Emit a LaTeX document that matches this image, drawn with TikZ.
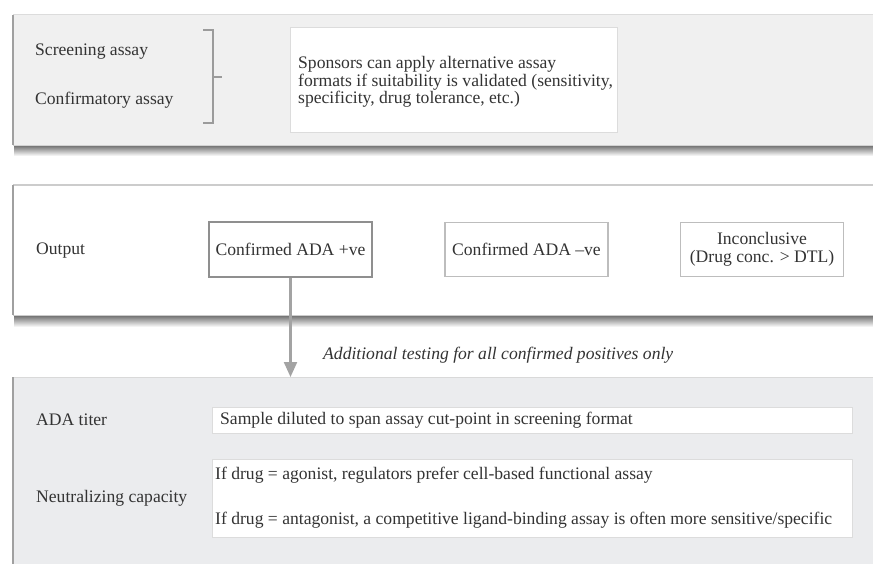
\documentclass[tikz,border=0pt]{standalone}
\usepackage{fontspec}
\setmainfont{Liberation Serif}
\usetikzlibrary{arrows.meta}
\definecolor{pone}{HTML}{F0F0F0}
\definecolor{pthree}{HTML}{EBECEE}
\definecolor{txt}{HTML}{333333}
\definecolor{lightline}{HTML}{DCDCDC}
\definecolor{posline}{HTML}{8F8F8F}
\definecolor{negline}{HTML}{BDBDBD}
\definecolor{arrcol}{HTML}{A3A3A3}
\definecolor{brkcol}{HTML}{9B9B9B}
\definecolor{ledge}{HTML}{A0A0A0}
\definecolor{shd}{HTML}{6A6A6A}
\begin{document}
\begin{tikzpicture}[x=1pt,y=-1pt,
  every node/.style={text=txt, font=\fontsize{17.6}{17.5}\selectfont},
  panel/.style={draw=none, minimum width=862, anchor=north west, inner sep=0},
  lbl/.style={anchor=west, inner sep=0},
  boxtxt/.style={anchor=west, inner sep=0, align=left},
  whitebox/.style={draw=lightline, line width=1.2pt, fill=white, anchor=north west, inner sep=0},
  outbox/.style={draw=negline, line width=1.6pt, fill=white, minimum width=163, minimum height=54, inner sep=0, align=center},
  brk/.style={draw=brkcol, line width=2pt},
  arr/.style={draw=arrcol, line width=2.2pt, -{Triangle[width=13pt,length=15pt]}, arrcol}
]
\useasboundingbox (0,0) rectangle (873,564);
\fill[white] (0,0) rectangle (873,564);

% ---------- panel 1
\shade[top color=shd, bottom color=white] (14,145) rectangle (873,156);
\node[panel, fill=pone, minimum height=130] (P1) at (13,15) {};
\draw[lightline, line width=1pt] (P1.north west) -- (P1.north east);
\draw[gray!35, line width=0.8pt] (P1.south west) -- (P1.south east);
\draw[ledge, line width=2.5pt] (P1.north west) -- (P1.south west);

\node[lbl] (scr) at (35,52) {Screening assay};
\node[lbl] (conf) at (35,100) {Confirmatory assay};
\coordinate (bt) at (213,30);
\coordinate (bb) at (213,123);
\coordinate (bm) at (213,77);
\draw[brk] ([xshift=-10pt]bt) -- (bt) -- (bb) -- ([xshift=-10pt]bb);
\draw[brk] (bm) -- ([xshift=9pt]bm);

\node[whitebox, minimum width=327, minimum height=105] (spons) at (290,27) {};
\node[boxtxt] (sponst) at ([xshift=8pt,yshift=-2pt]spons.west)
  {Sponsors can apply alternative assay\\formats if suitability is validated (sensitivity,\\specificity, drug tolerance, etc.)};

% ---------- panel 2
\shade[top color=shd, bottom color=white] (14,315) rectangle (873,327);
\node[panel, fill=white, minimum height=130] (P2) at (13,185) {};
\draw[gray!40, line width=1.2pt] (P2.north west) -- (P2.north east);
\draw[gray!40, line width=0.8pt] (P2.south west) -- (P2.south east);
\draw[ledge, line width=2.5pt] (P2.north west) -- (P2.south west);

\node[lbl] (out) at (36,251) {Output};
\node[outbox, draw=posline, line width=2pt] (pos) at (290.5,249.5) {Confirmed ADA +ve};
\node[outbox] (neg) at (526.5,249.5) {Confirmed ADA \textendash ve};
\node[outbox] (inc) at (762,249.5) {Inconclusive\\(Drug conc. > DTL)};

% ---------- panel 3
\node[panel, fill=pthree, minimum height=190] (P3) at (13,377) {};
\draw[gray!30, line width=1pt] (P3.north west) -- (P3.north east);
\draw[ledge, line width=2.5pt] (P3.north west) -- (P3.south west);

\draw[arr] (pos.south) -- (pos.south |- P3.north);
\node[lbl, font=\fontsize{17.6}{17.5}\selectfont\itshape] (add) at (323,355) {Additional testing for all confirmed positives only};

\node[lbl] (titer) at (36,420) {ADA titer};
\node[whitebox, minimum width=640, minimum height=26] (samp) at (212,407) {};
\node[boxtxt] (sampt) at ([xshift=8pt]samp.west) {Sample diluted to span assay cut-point in screening format};

\node[lbl] (neut) at (36,498) {Neutralizing capacity};
\node[whitebox, minimum width=640, minimum height=78] (drug) at (212,459) {};
\node[boxtxt] (drug1) at (215,475) {If drug = agonist, regulators prefer cell-based functional assay};
\node[boxtxt] (drug2) at (215,520) {If drug = antagonist, a competitive ligand-binding assay is often more sensitive/specific};
\end{tikzpicture}
\end{document}
